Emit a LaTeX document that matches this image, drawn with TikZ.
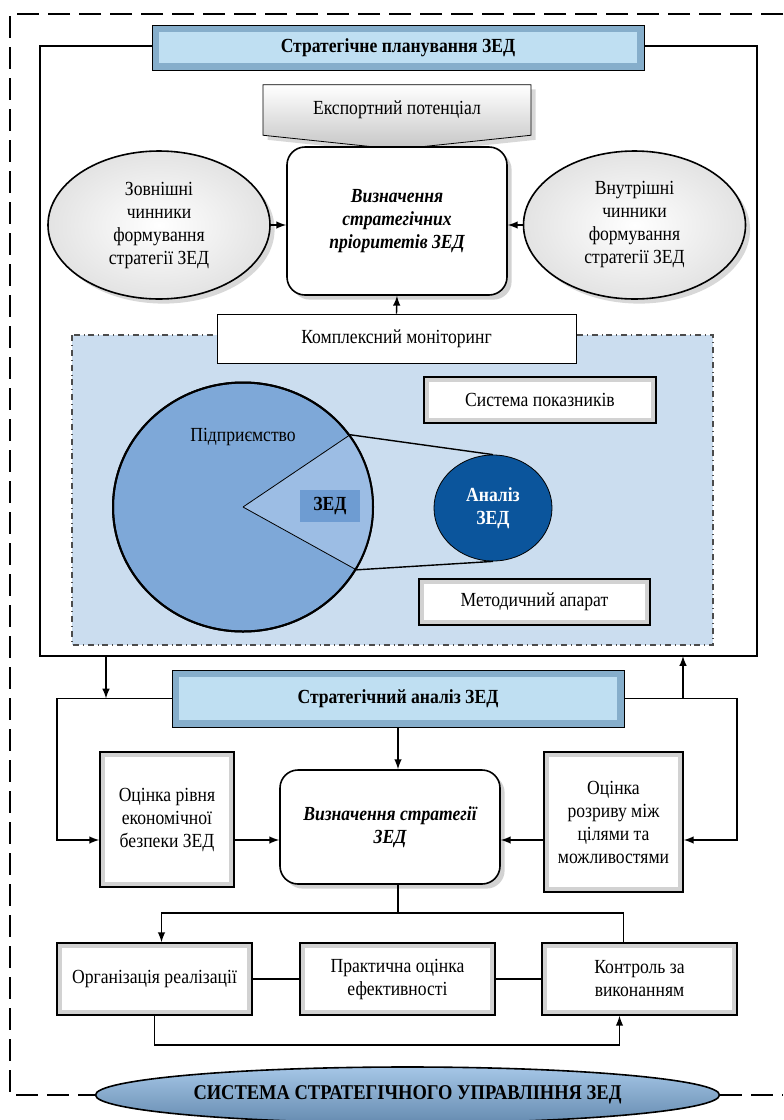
\documentclass[tikz,border=0pt]{standalone}
\usepackage{fontspec}
\setmainfont{Liberation Serif}[FakeStretch=0.88]
\usepackage{xcolor}
\usetikzlibrary{shapes.geometric, shapes.symbols, arrows, shadows, calc}

\definecolor{barblue}{HTML}{BFDFF2}
\definecolor{baredge}{HTML}{86AECB}
\definecolor{zonefill}{HTML}{CBDDEF}
\definecolor{firmblue}{HTML}{7EA8D8}
\definecolor{wedgeblue}{HTML}{9CBDE4}
\definecolor{zedblue}{HTML}{6E9CD2}
\definecolor{anadark}{HTML}{0B559C}
\definecolor{sysblue}{HTML}{7FAEDC}

\begin{document}
\begin{tikzpicture}[
    x=0.5pt, y=-0.5pt,
    font=\fontsize{10}{11.5}\selectfont,
    bar/.style={rectangle, draw, fill=baredge, font=\fontsize{10}{11.5}\selectfont\bfseries,
        path picture={\fill[barblue] ([shift={(3.5pt,3.5pt)}]path picture bounding box.south west) rectangle ([shift={(-3.5pt,-3.5pt)}]path picture bounding box.north east);}},
    bevel/.style={rectangle, draw, thick, fill=gray!35, align=center,
        path picture={\fill[white] ([shift={(2.5pt,2.5pt)}]path picture bounding box.south west) rectangle ([shift={(-2.5pt,-2.5pt)}]path picture bounding box.north east);}},
    rbox/.style={rectangle, rounded corners=9pt, draw, thick, fill=white, align=center, drop shadow={opacity=0.35},
        font=\fontsize{10}{11.5}\selectfont\bfseries\itshape},
    oval/.style={ellipse, draw, thick, inner sep=0pt, align=center, inner color=white, outer color=gray!22, drop shadow={opacity=0.3}},
    plainbox/.style={rectangle, draw, fill=white},
    arrow/.style={line width=0.7pt, -latex},
    line/.style={line width=0.7pt},
    frame/.style={line width=0.6pt},
    zone/.style={dash dot, line width=0.6pt, draw=black!70, fill=zonefill},
    outer/.style={dashed, dash pattern=on 11pt off 4.5pt, line width=1.1pt}
]
\useasboundingbox (0,0) rectangle (783,1120);
\fill[white] (0,0) rectangle (783,1120);

% Frames
\draw[frame] (40,46) rectangle (757,656);
\draw[zone] (72,335) rectangle (713,645);

% Nodes
\node (plan) [bar, minimum width=246pt, minimum height=22.5pt] at (398,47.5) {Стратегічне планування ЗЕД};
\node (export) [signal, signal to=south, signal pointer angle=168, draw, top color=white, bottom color=gray!45,
    minimum width=134pt, minimum height=30pt, drop shadow={opacity=0.3}] at (397,110) {Експортний потенціал};
\node (prio) [rbox, minimum width=110pt, minimum height=74pt] at (397,221) {Визначення\\стратегічних\\пріоритетів ЗЕД};
\node (ext) [oval, minimum width=111pt, minimum height=74pt] at (159,225) {Зовнішні\\чинники\\формування\\стратегії ЗЕД};
\node (int) [oval, minimum width=111pt, minimum height=74pt] at (634.5,225) {Внутрішні\\чинники\\формування\\стратегії ЗЕД};
\node (monitor) [plainbox, minimum width=179.5pt, minimum height=24.5pt] at (396.5,338.5) {Комплексний моніторинг};
\node (indic) [bevel, minimum width=116pt, minimum height=23pt] at (540,400) {Система показників};
\node (method) [bevel, minimum width=115.5pt, minimum height=23pt] at (534.5,602) {Методичний апарат};

% Enterprise pie
\node (firm) [ellipse, draw, line width=1pt, fill=firmblue, minimum width=130pt, minimum height=124.5pt] at (243,507) {};
\begin{scope}
    \clip (firm.center) ellipse [x radius=65pt, y radius=62.25pt];
    \fill[wedgeblue] (firm.center) -- ($(firm.center)!2!(firm.34)$) -- ($(firm.center)!2!(firm.-29)$) -- cycle;
\end{scope}
\draw[line width=1pt] (firm.center) ellipse [x radius=65pt, y radius=62.25pt];
\node (zed) [fill=zedblue, minimum width=30pt, minimum height=16pt, font=\fontsize{10}{11.5}\selectfont\bfseries] at (330,506) {ЗЕД};
\node (firmlbl) at (243,437) {Підприємство};
\node (ana) [ellipse, draw, fill=anadark, text=white, align=center, inner sep=0pt, minimum width=59pt, minimum height=53pt,
    font=\fontsize{10}{11.5}\selectfont\bfseries] at (493,508) {Аналіз\\ЗЕД};
\draw (firm.center) -- (firm.34);
\draw (firm.center) -- (firm.-29);
\draw[line] (firm.34) -- (ana.north);
\draw[line] (firm.-29) -- (ana.south);

\node (anbar) [bar, minimum width=226pt, minimum height=28.5pt] at (398,698.5) {Стратегічний аналіз ЗЕД};
\node (eco) [bevel, minimum width=67pt, minimum height=67.5pt] at (167,819.5) {Оцінка рівня\\економічної\\безпеки ЗЕД};
\node (strat) [rbox, minimum width=110pt, minimum height=57pt] at (390,827) {Визначення стратегії\\ЗЕД};
\node (gap) [bevel, minimum width=69.5pt, minimum height=70pt] at (613.5,822) {Оцінка\\розриву між\\цілями та\\можливостями};
\node (org) [bevel, minimum width=97.5pt, minimum height=36pt] at (154.5,979) {Організація реалізації};
\node (prac) [bevel, minimum width=97.5pt, minimum height=36pt] at (397.5,979) {Практична оцінка\\ефективності};
\node (ctrl) [bevel, minimum width=97.5pt, minimum height=36pt] at (639.5,979) {Контроль за\\виконанням};
\node (sys) [ellipse, draw, thick, top color=sysblue!70, bottom color=sysblue!80!black, minimum width=276.5pt, minimum height=28pt,
    font=\fontsize{10.5}{12}\selectfont\bfseries] at (407.5,1095) {СИСТЕМА СТРАТЕГІЧНОГО УПРАВЛІННЯ ЗЕД};

% Outer border
\draw[outer] (783,14) -- (10,14) -- (10,1095) -- (sys.west);
\draw[outer] (sys.east) -- (783,1095);

% Connections
\draw[arrow] (ext.east) -- (ext.east -| prio.west);
\draw[arrow] (int.west) -- (int.west -| prio.east);
\draw[arrow] (monitor.north) -- (prio.south);

\coordinate (fl) at (106,656);
\coordinate (fr) at (683,656);
\coordinate (loopL) at (57,840);
\coordinate (loopR) at (737,840);
\coordinate (split) at (398,913);
\draw[arrow] (fl) -- (fl |- anbar.west);
\draw[arrow] (fr |- anbar.east) -- (fr);
\draw[arrow] (anbar.west) -| (loopL) -- (eco.west |- loopL);
\draw[arrow] (anbar.east) -| (loopR) -- (gap.east |- loopR);
\draw[arrow] (eco.east |- loopL) -- (strat.west |- loopL);
\draw[arrow] (gap.west |- loopR) -- (strat.east |- loopR);
\draw[arrow] (anbar.south) -- (anbar.south |- strat.north);
\draw[line] (split |- strat.south) -- (split);
\draw[arrow] (split) -| ([xshift=3.5pt]org.north);
\draw[line] (split) -| ([xshift=-8pt]ctrl.north);
\draw[line] (org) -- (prac);
\draw[line] (prac) -- (ctrl);
\draw[arrow] (org.south) -- ++(0,29) -| ([xshift=-10pt]ctrl.south);

\end{tikzpicture}
\end{document}
